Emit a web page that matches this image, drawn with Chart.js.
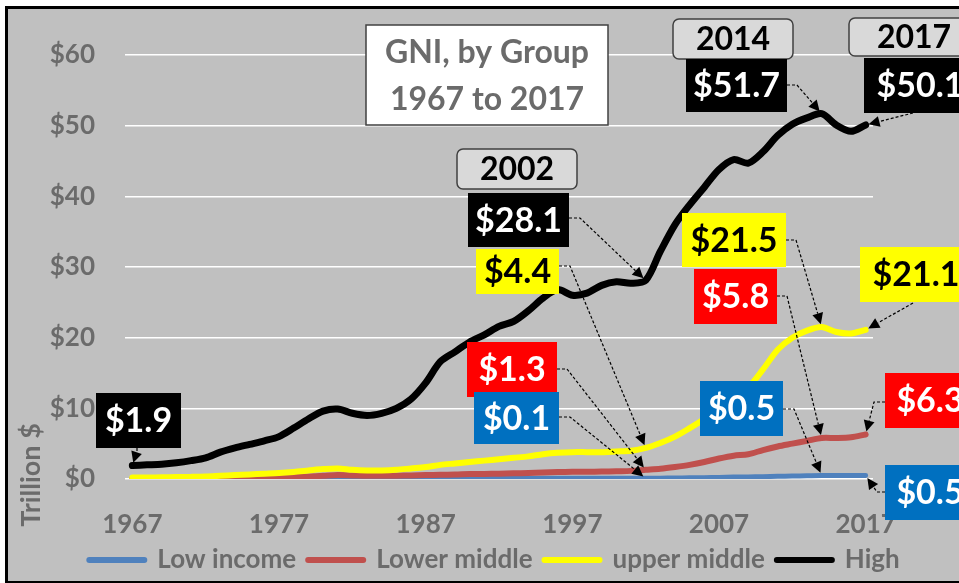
<!DOCTYPE html>
<html>
<head>
<meta charset="utf-8">
<script src="https://cdn.jsdelivr.net/npm/chart.js@4.4.0/dist/chart.umd.min.js"></script>
<style>
  html, body { margin: 0; padding: 0; background: #fff; }
  #wrap { width: 959px; height: 583px; overflow: hidden; }
</style>
</head>
<body>
<div id="wrap"><canvas id="gniChart" width="959" height="583"></canvas></div>
<script>
// GNI by income group, trillion US$
const years = [
  '1967', '1968', '1969', '1970', '1971', '1972', '1973', '1974', '1975', '1976',
  '1977', '1978', '1979', '1980', '1981', '1982', '1983', '1984', '1985', '1986',
  '1987', '1988', '1989', '1990', '1991', '1992', '1993', '1994', '1995', '1996',
  '1997', '1998', '1999', '2000', '2001', '2002', '2003', '2004', '2005', '2006',
  '2007', '2008', '2009', '2010', '2011', '2012', '2013', '2014', '2015', '2016', '2017'
];
const lowIncome = [
  0.02, 0.02, 0.02, 0.03, 0.03, 0.03, 0.04, 0.04, 0.05, 0.05,
  0.06, 0.06, 0.07, 0.08, 0.08, 0.08, 0.07, 0.07, 0.07, 0.08,
  0.08, 0.09, 0.09, 0.09, 0.09, 0.09, 0.09, 0.08, 0.09, 0.1,
  0.1, 0.1, 0.1, 0.1, 0.1, 0.1, 0.12, 0.14, 0.16, 0.19,
  0.22, 0.27, 0.29, 0.33, 0.38, 0.42, 0.46, 0.5, 0.49, 0.49, 0.5
];
const lowerMiddle = [
  0.05, 0.05, 0.06, 0.07, 0.08, 0.09, 0.11, 0.14, 0.17, 0.2,
  0.25, 0.3, 0.36, 0.45, 0.55, 0.5, 0.45, 0.45, 0.47, 0.5,
  0.55, 0.6, 0.63, 0.7, 0.72, 0.76, 0.8, 0.84, 0.92, 0.98,
  1.02, 1.02, 1.05, 1.1, 1.15, 1.3, 1.45, 1.7, 2.0, 2.4,
  2.9, 3.3, 3.5, 4.1, 4.6, 5.0, 5.4, 5.8, 5.8, 5.9, 6.3
];
const upperMiddle = [
  0.2, 0.22, 0.24, 0.27, 0.3, 0.35, 0.45, 0.55, 0.65, 0.75,
  0.85, 1.0, 1.2, 1.4, 1.5, 1.3, 1.2, 1.2, 1.3, 1.5,
  1.7, 2.0, 2.2, 2.4, 2.6, 2.8, 3.0, 3.2, 3.5, 3.7,
  3.8, 3.8, 3.8, 3.9, 4.0, 4.4, 5.1, 6.0, 7.2, 8.5,
  10.0, 12.0, 13.0, 15.5, 18.3, 20.0, 21.0, 21.5, 20.8, 20.6, 21.1
];
const highIncome = [
  1.9, 2.0, 2.1, 2.3, 2.6, 3.0, 3.8, 4.4, 4.9, 5.4,
  6.0, 7.2, 8.5, 9.6, 9.9, 9.3, 9.0, 9.3, 10.0, 11.3,
  13.6, 16.6, 18.0, 19.4, 20.4, 21.6, 22.3, 23.8, 25.6, 26.8,
  26.0, 26.3, 27.4, 27.9, 27.7, 28.1, 32.2, 36.0, 38.8, 41.3,
  43.8, 45.2, 44.7, 46.3, 48.6, 50.2, 51.1, 51.7, 50.1, 49.2, 50.1
];
const seriesNames = ['Low income', 'Lower middle', 'upper middle', 'High'];
const yTicks = [0, 10, 20, 30, 40, 50, 60];

const FONT = 'Lato, "Open Sans", sans-serif';
const GREY_TXT = '#6b6b6b';
const seriesData = [lowIncome, lowerMiddle, upperMiddle, highIncome];

// callout boxes: series index, year, box [x, y, w, h], leader elbow points
const callouts = [
  { s: 3, year: '1967', bg: '#000', fg: '#fff', box: [96, 393, 85, 55], path: [[137, 448], [137, 451]] },
  { s: 3, year: '2002', bg: '#000', fg: '#fff', box: [468, 193, 101, 54], path: [[569, 218], [580, 218]] },
  { s: 2, year: '2002', bg: '#ffff00', fg: '#000', box: [476, 249, 83, 45], path: [[559, 266], [570, 266]] },
  { s: 1, year: '2002', bg: '#ff0000', fg: '#fff', box: [467, 342, 90, 55], path: [[557, 369], [567, 369]] },
  { s: 0, year: '2002', bg: '#0070c0', fg: '#fff', box: [474, 392, 85, 52], path: [[559, 417], [570, 417]] },
  { s: 3, year: '2014', bg: '#000', fg: '#fff', box: [686, 59, 101, 53], path: [[787, 85], [797, 85]] },
  { s: 2, year: '2014', bg: '#ffff00', fg: '#000', box: [682, 213, 104, 54], path: [[786, 240], [796, 240]] },
  { s: 1, year: '2014', bg: '#ff0000', fg: '#fff', box: [694, 269, 83, 55], path: [[777, 296], [787, 296]] },
  { s: 0, year: '2014', bg: '#0070c0', fg: '#fff', box: [700, 381, 83, 55], path: [[783, 409], [794, 409]] },
  { s: 3, year: '2017', bg: '#000', fg: '#fff', box: [864, 58, 112, 55], path: [[913, 113]] },
  { s: 2, year: '2017', bg: '#ffff00', fg: '#000', box: [860, 247, 112, 55], path: [[913, 303]] },
  { s: 1, year: '2017', bg: '#ff0000', fg: '#fff', box: [885, 373, 90, 55], path: [[885, 402], [874, 402]] },
  { s: 0, year: '2017', bg: '#0070c0', fg: '#fff', box: [885, 465, 90, 55], path: [[885, 492], [877, 492]] }
];
const yearTags = [
  { text: '2002', box: [457, 149, 120, 40] },
  { text: '2014', box: [673, 19, 120, 40] },
  { text: '2017', box: [849, 18, 130, 38] }
];

function drawLeader(ctx, path, tx, ty) {
  const last = path[path.length - 1];
  const ang = Math.atan2(ty - last[1], tx - last[0]);
  const tipX = tx - Math.cos(ang) * 3, tipY = ty - Math.sin(ang) * 3;
  const head = 11;
  const ex = tipX - Math.cos(ang) * head, ey = tipY - Math.sin(ang) * head;
  ctx.save();
  ctx.strokeStyle = '#000';
  ctx.lineWidth = 1.2;
  ctx.setLineDash([3, 2]);
  ctx.beginPath();
  ctx.moveTo(path[0][0], path[0][1]);
  for (let i = 1; i < path.length; i++) ctx.lineTo(path[i][0], path[i][1]);
  ctx.lineTo(ex, ey);
  ctx.stroke();
  ctx.setLineDash([]);
  ctx.fillStyle = '#000';
  ctx.beginPath();
  ctx.moveTo(tipX, tipY);
  ctx.lineTo(ex + Math.sin(ang) * 5.5, ey - Math.cos(ang) * 5.5);
  ctx.lineTo(ex - Math.sin(ang) * 5.5, ey + Math.cos(ang) * 5.5);
  ctx.closePath();
  ctx.fill();
  ctx.restore();
}

const framePlugin = {
  id: 'frame',
  beforeDraw(chart) {
    const ctx = chart.ctx;
    ctx.save();
    ctx.fillStyle = '#fff';
    ctx.fillRect(0, 0, chart.width, chart.height);
    ctx.fillStyle = '#c0c0c0';
    ctx.fillRect(7, 8, chart.width, chart.height - 9);
    ctx.strokeStyle = '#000';
    ctx.lineWidth = 3;
    ctx.strokeRect(6.5, 7.5, chart.width + 10, chart.height - 8);
    // y axis title
    ctx.translate(31, 475);
    ctx.rotate(-Math.PI / 2);
    ctx.font = 'bold 27px ' + FONT;
    ctx.fillStyle = GREY_TXT;
    ctx.textAlign = 'center';
    ctx.textBaseline = 'middle';
    ctx.fillText('Trillion $', 0, 0);
    ctx.restore();
  },
  afterLayout(chart) {
    // legend sits a little right of centre in the original
    const lg = chart.legend;
    if (lg) {
      lg.left += 58;
      lg.right += 58;
    }
  },
  afterDraw(chart) {
    const ctx = chart.ctx;
    ctx.save();
    // title box
    ctx.fillStyle = '#fff';
    ctx.fillRect(366, 25, 242, 100);
    ctx.strokeStyle = '#404040';
    ctx.lineWidth = 1.5;
    ctx.strokeRect(366, 25, 242, 100);
    ctx.fillStyle = GREY_TXT;
    ctx.font = 'bold 32px ' + FONT;
    ctx.textAlign = 'center';
    ctx.textBaseline = 'middle';
    ctx.fillText('GNI, by Group', 487, 53);
    ctx.fillText('1967 to 2017', 487, 100);

    // year tags
    yearTags.forEach(t => {
      const [x, y, w, h] = t.box;
      ctx.beginPath();
      ctx.roundRect(x, y, w, h, 6);
      ctx.fillStyle = '#d9d9d9';
      ctx.fill();
      ctx.strokeStyle = '#404040';
      ctx.lineWidth = 1.5;
      ctx.stroke();
      ctx.fillStyle = '#000';
      ctx.font = 'bold 32px ' + FONT;
      ctx.fillText(t.text, x + w / 2, y + h / 2 + 1);
    });

    // value callouts
    callouts.forEach(c => {
      const idx = years.indexOf(c.year);
      const pt = chart.getDatasetMeta(c.s).data[idx];
      drawLeader(ctx, c.path, pt.x, pt.y);
      const [x, y, w, h] = c.box;
      ctx.fillStyle = c.bg;
      ctx.fillRect(x, y, w, h);
      ctx.fillStyle = c.fg;
      ctx.font = 'bold 34px ' + FONT;
      ctx.textAlign = 'center';
      ctx.fillText('$' + seriesData[c.s][idx].toFixed(1), x + w / 2, y + h / 2 + 1);
    });
    ctx.restore();
  }
};

const colors = ['#4f81bd', '#c0504d', '#ffff00', '#000000'];
const widths = [5, 6, 6, 7];

new Chart(document.getElementById('gniChart'), {
  type: 'line',
  data: {
    labels: years,
    datasets: seriesData.map((d, i) => ({
      label: seriesNames[i],
      data: d,
      borderColor: colors[i],
      backgroundColor: colors[i],
      borderWidth: widths[i],
      borderCapStyle: 'round',
      borderJoinStyle: 'round',
      pointRadius: 0,
      tension: 0.3,
      order: 3 - i
    }))
  },
  options: {
    responsive: false,
    animation: false,
    devicePixelRatio: 1,
    layout: { padding: { left: 0, right: 86, top: 55, bottom: 0 } },
    plugins: {
      tooltip: { enabled: false },
      legend: {
        position: 'bottom',
        labels: {
          usePointStyle: true,
          pointStyle: 'line',
          pointStyleWidth: 55,
          padding: 12,
          color: GREY_TXT,
          font: { family: FONT, size: 26, weight: 'bold' },
          sort: (a, b) => a.datasetIndex - b.datasetIndex,
          generateLabels(chart) {
            const items = Chart.defaults.plugins.legend.labels.generateLabels(chart);
            items.forEach(it => {
              it.lineWidth = 6;
              it.lineCap = 'round';
              it.strokeStyle = colors[it.datasetIndex];
            });
            return items;
          }
        }
      }
    },
    scales: {
      x: {
        type: 'category',
        offset: true,
        grid: { display: false },
        border: { display: false },
        ticks: {
          autoSkip: false,
          maxRotation: 0,
          padding: 22,
          color: GREY_TXT,
          font: { family: FONT, size: 26, weight: 'bold' },
          callback: (v, i) => (i % 10 === 0 ? years[i] : null)
        },
        afterFit(scale) {
          scale.height = 583 - scale.chart.legend.height - 479;
        }
      },
      y: {
        min: 0,
        max: 60,
        afterBuildTicks(scale) {
          scale.ticks = yTicks.map(v => ({ value: v }));
        },
        grid: { color: '#ffffff', lineWidth: 1.5, drawTicks: false },
        border: { display: false },
        ticks: {
          padding: 30,
          color: GREY_TXT,
          font: { family: FONT, size: 26, weight: 'bold' },
          callback: v => '$' + v
        },
        afterFit(scale) {
          scale.width = 125;
        }
      }
    }
  },
  plugins: [framePlugin]
});
</script>
</body>
</html>
